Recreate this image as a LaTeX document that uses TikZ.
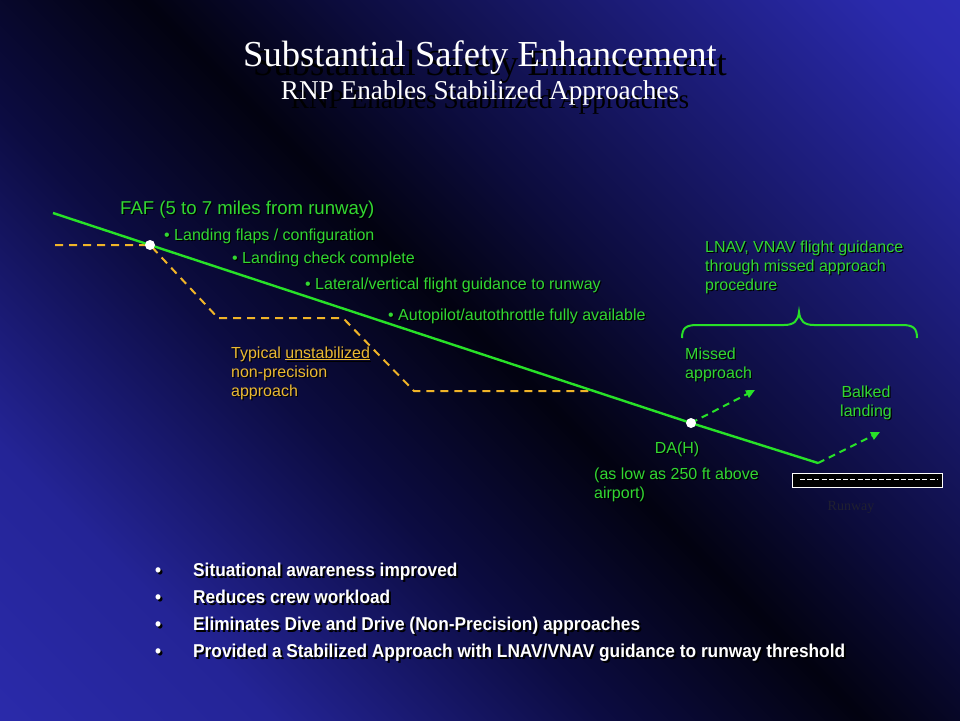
\documentclass[tikz,border=0pt]{standalone}
\usepackage{fontspec}
\setmainfont{Liberation Sans}
\newfontfamily\ttlserif{Liberation Serif}
\newfontfamily\bbfont[FakeStretch=0.93]{Liberation Sans}
\usetikzlibrary{arrows.meta}
\definecolor{bgA}{RGB}{50,50,195}
\definecolor{bgB}{RGB}{36,36,150}
\definecolor{bgC}{RGB}{12,12,66}
\definecolor{bgD}{RGB}{2,2,16}
\definecolor{bgE}{RGB}{12,12,60}
\definecolor{bgF}{RGB}{42,42,172}
\definecolor{bgG}{RGB}{55,52,212}
\definecolor{gline}{RGB}{40,225,40}
\definecolor{gtext}{RGB}{50,215,50}
\definecolor{ydash}{RGB}{240,180,40}
\definecolor{ytext}{RGB}{235,185,50}
\definecolor{rwtext}{RGB}{32,32,48}
\pgfdeclareverticalshading{bgshade}{100bp}{color(0bp)=(bgA); color(26bp)=(bgB); color(40bp)=(bgC); color(51bp)=(bgD); color(59bp)=(bgE); color(82bp)=(bgF); color(100bp)=(bgG)}
\newcommand\shd[1]{\leavevmode\rlap{\kern1.2pt\raisebox{-1.2pt}{\color{black}#1}}#1}
\newcommand\shdb[1]{\leavevmode\rlap{\kern2pt\raisebox{-2pt}{\color{black}#1}}#1}
\begin{document}
\begin{tikzpicture}[x=1pt,y=-1pt,
  ttl/.style={font=\ttlserif\fontsize{36.6}{40}\selectfont, text=white, inner sep=0, anchor=base},
  sub/.style={font=\ttlserif\fontsize{27.2}{30}\selectfont, text=white, inner sep=0, anchor=base},
  ttlsh/.style={text=black},
  fafl/.style={font=\fontsize{18.6}{21}\selectfont, text=gtext, inner sep=0, anchor=base west},
  gt/.style={font=\fontsize{16}{19}\selectfont, text=gtext, inner sep=0, anchor=base west},
  gtc/.style={gt, anchor=base},
  yt/.style={font=\fontsize{16}{19}\selectfont, text=ytext, inner sep=0, anchor=base west},
  bt/.style={font=\bbfont\bfseries\fontsize{18.6}{21}\selectfont, text=white, inner sep=0, anchor=base west},
  rwl/.style={font=\ttlserif\fontsize{14}{16}\selectfont, text=rwtext, inner sep=0, anchor=base},
  glide/.style={draw=gline, line width=2.4pt},
  npa/.style={draw=ydash, line width=2pt, dash pattern=on 8pt off 6pt},
  garrow/.style={draw=gline, line width=2pt, dash pattern=on 7pt off 5pt, -{Triangle[length=9pt,width=8pt]}},
  brc/.style={draw=gline, line width=2pt},
  dotn/.style={circle, fill=white, minimum size=10pt, inner sep=0},
  rwbox/.style={rectangle, fill=black, draw=white, line width=1.3pt, minimum width=150pt, minimum height=14pt, inner sep=0},
  rwdash/.style={draw=white, line width=1pt, dash pattern=on 5pt off 2.2pt},
]
% background
\shade[shading=bgshade, shading angle=-45] (0,0) rectangle (960,720);
\useasboundingbox (0,0) rectangle (960,720);

% title
\node[ttl, ttlsh] (ttlS) at (490,75) {Substantial Safety Enhancement};
\node[ttl] (ttlM) at (480,66) {Substantial Safety Enhancement};
\node[sub, ttlsh] (subS) at (490,108) {RNP Enables Stabilized Approaches};
\node[sub] (subM) at (480,99) {RNP Enables Stabilized Approaches};

% coordinates
\coordinate (gs0) at (53,213);
\coordinate (faf) at (150,245);
\coordinate (da) at (691,423);
\coordinate (td) at (818,463);
\coordinate (y0) at (55,245);
\coordinate (y1) at (218,318);
\coordinate (y2) at (343,318);
\coordinate (y3) at (414,391);
\coordinate (y4) at (592,391);
\coordinate (ma) at (755,390);
\coordinate (bl) at (880,432);

% non-precision approach
\draw[npa] (y0) -- (faf) -- (y1) -- (y2) -- (y3) -- (y4);
% glide path
\draw[glide] (gs0) -- (faf) -- (da) -- (td);
% missed approach / balked landing
\draw[garrow] (da) -- (ma);
\draw[garrow] (td) -- (bl);
% dots
\node[dotn] (fafdot) at (faf) {};
\node[dotn] (dadot) at (da) {};

% brace
\draw[brc] (682,338) .. controls (682,328) and (686,325) .. (697,325) -- (784,325)
  .. controls (794,325) and (798,321) .. (799,312)
  .. controls (800,321) and (804,325) .. (814,325) -- (902,325)
  .. controls (913,325) and (917,328) .. (917,338);

% runway
\node[rwbox] (rw) at (867.5,480.2) {};
\draw[rwdash] (800,479) -- (937,479);
\node[rwl] (rwlab) at (851,510) {Runway};

% green labels
\node[fafl] (faflab) at (120,214) {\shd{FAF (5 to 7 miles from runway)}};
\node[gt] (b1) at (164,240) {\shd{\textbullet\ Landing flaps / configuration}};
\node[gt] (b2) at (232,263) {\shd{\textbullet\ Landing check complete}};
\node[gt] (b3) at (305,289) {\shd{\textbullet\ Lateral/vertical flight guidance to runway}};
\node[gt] (b4) at (388,320) {\shd{\textbullet\ Autopilot/autothrottle fully available}};

\node[gt] (ln1) at (705,252) {\shd{LNAV, VNAV flight guidance}};
\node[gt] (ln2) at (705,271) {\shd{through missed approach}};
\node[gt] (ln3) at (705,290) {\shd{procedure}};

\node[gt] (ma1) at (685,359) {\shd{Missed}};
\node[gt] (ma2) at (685,378) {\shd{approach}};

\node[gtc] (bk1) at (866,397) {\shd{Balked}};
\node[gtc] (bk2) at (866,416) {\shd{landing}};

\node[gtc] (dalab) at (677,453) {\shd{DA(H)}};
\node[gt] (al1) at (594,479) {\shd{(as low as 250 ft above}};
\node[gt] (al2) at (594,498) {\shd{airport)}};

% yellow labels
\node[yt] (ty1) at (231,358) {\shd{Typical \underline{unstabilized}}};
\node[yt] (ty2) at (231,377) {\shd{non-precision}};
\node[yt] (ty3) at (231,396) {\shd{approach}};

% bottom bullets
\node[bt] (bb1) at (155,576) {\shdb{\makebox[38pt][l]{\textbullet}Situational awareness improved}};
\node[bt] (bb2) at (155,603) {\shdb{\makebox[38pt][l]{\textbullet}Reduces crew workload}};
\node[bt] (bb3) at (155,630) {\shdb{\makebox[38pt][l]{\textbullet}Eliminates Dive and Drive (Non-Precision) approaches}};
\node[bt] (bb4) at (155,657) {\shdb{\makebox[38pt][l]{\textbullet}Provided a Stabilized Approach with LNAV/VNAV guidance to runway threshold}};
\end{tikzpicture}
\end{document}
